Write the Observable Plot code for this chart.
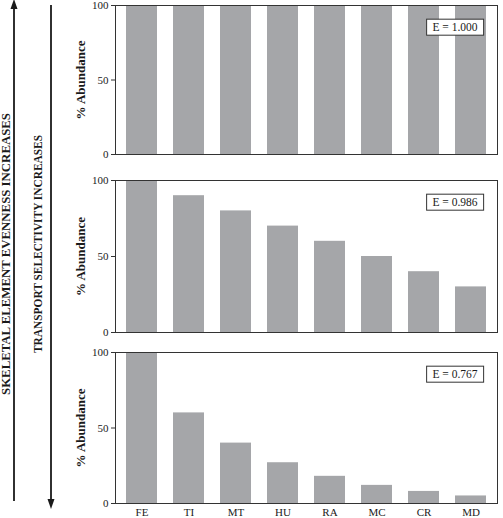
<!DOCTYPE html>
<html>
<head>
<meta charset="utf-8">
<script src="https://cdn.jsdelivr.net/npm/d3@7"></script>
<script src="https://cdn.jsdelivr.net/npm/@observablehq/plot@0.6"></script>
<style>
  html, body { margin: 0; padding: 0; background: #fff; }
  #chart { position: relative; width: 503px; height: 518px; overflow: hidden; font-family: "Liberation Serif", serif; }
  #chart > svg { position: absolute; left: 0; }
</style>
</head>
<body>
<div id="chart"></div>
<script>
const categories = ["FE", "TI", "MT", "HU", "RA", "MC", "CR", "MD"];
const panel1Values = [100, 100, 100, 100, 100, 100, 100, 100];
const panel2Values = [100, 90, 80, 70, 60, 50, 40, 30];
const panel3Values = [100, 60, 40, 27, 18, 12, 8, 5];
const evennessLabels = ["E = 1.000", "E = 0.986", "E = 0.767"];
const yTicks = [0, 50, 100];
const yLabel = "% Abundance";
const leftLabelOuter = "SKELETAL ELEMENT EVENNESS INCREASES";
const leftLabelInner = "TRANSPORT SELECTIVITY INCREASES";

const container = document.getElementById("chart");
const barColor = "#a5a6a9";
const ink = "#1a1a1a";

const panels = [
  {values: panel1Values, label: evennessLabels[0], top: 0, height: 160, marginBottom: 6, xLabels: false},
  {values: panel2Values, label: evennessLabels[1], top: 175, height: 163, marginBottom: 6, xLabels: false},
  {values: panel3Values, label: evennessLabels[2], top: 347, height: 171, marginBottom: 15, xLabels: true}
];

panels.forEach(p => {
  const data = categories.map((c, i) => ({cat: c, value: p.values[i]}));
  const marks = [
    Plot.barY(data, {x: "cat", y: "value", fill: barColor}),
    Plot.frame({stroke: "#333", strokeWidth: 1}),
    Plot.axisY({ticks: yTicks, tickSize: 4, tickPadding: 3, label: null, stroke: "#333"}),
    Plot.text([yLabel], {frameAnchor: "left", rotate: -90, dx: -35, textAnchor: "middle", lineAnchor: "middle", fontWeight: "bold", fontSize: 13, fill: ink}),
    Plot.text([p.label], {frameAnchor: "top-right", dx: -42.5, dy: 22, textAnchor: "middle", lineAnchor: "middle", fontSize: 11.5, fill: ink, ariaDescription: "evenness"})
  ];
  if (p.xLabels) {
    marks.push(Plot.axisX({tickSize: 0, tickPadding: 5, label: null, fontSize: 11}));
  } else {
    marks.push(Plot.axisX({ticks: [], label: null}));
  }
  const svg = Plot.plot({
    width: 503,
    height: p.height,
    marginLeft: 115,
    marginRight: 6,
    marginTop: 5,
    marginBottom: p.marginBottom,
    x: {domain: categories, paddingInner: 0.34, paddingOuter: 0.17},
    y: {domain: [0, 100]},
    style: {fontFamily: "Liberation Serif, serif", fontSize: "11px", color: ink, background: "transparent"},
    marks
  });
  svg.style.top = p.top + "px";
  container.appendChild(svg);
  // draw box around the evenness label (after attaching, so getBBox works)
  svg.querySelectorAll('g[aria-description="evenness"] text').forEach(t => {
    const b = t.getBBox();
    const w = 57, h = 16;
    const cx = b.x + b.width / 2, cy = b.y + b.height / 2;
    const rect = document.createElementNS("http://www.w3.org/2000/svg", "rect");
    rect.setAttribute("x", cx - w / 2);
    rect.setAttribute("y", cy - h / 2);
    rect.setAttribute("width", w);
    rect.setAttribute("height", h);
    rect.setAttribute("fill", "#fff");
    rect.setAttribute("stroke", "#333");
    rect.setAttribute("stroke-width", 1);
    const tr = t.getAttribute("transform");
    if (tr) rect.setAttribute("transform", tr);
    t.parentNode.insertBefore(rect, t);
  });
});

// left annotation arrows and labels
const overlay = d3.create("svg")
  .attr("width", 503).attr("height", 518)
  .style("top", "0px")
  .style("font-family", "Liberation Serif, serif");
container.appendChild(overlay.node());

// outer arrow (points up)
overlay.append("line").attr("x1", 14).attr("x2", 14).attr("y1", 501).attr("y2", 6)
  .attr("stroke", ink).attr("stroke-width", 1.8);
overlay.append("path").attr("d", "M14,-1 L10.5,9 L17.5,9 Z").attr("fill", ink);

// inner arrow (points down)
overlay.append("line").attr("x1", 51).attr("x2", 51).attr("y1", 5).attr("y2", 500)
  .attr("stroke", ink).attr("stroke-width", 1.8);
overlay.append("path").attr("d", "M51,509 L47.5,499 L54.5,499 Z").attr("fill", ink);

overlay.append("text")
  .attr("transform", "translate(9.5,254) rotate(-90)")
  .attr("text-anchor", "middle")
  .attr("font-weight", "bold").attr("font-size", 12)
  .attr("textLength", 282).attr("lengthAdjust", "spacingAndGlyphs")
  .attr("fill", ink)
  .text(leftLabelOuter);

overlay.append("text")
  .attr("transform", "translate(42,244) rotate(-90)")
  .attr("text-anchor", "middle")
  .attr("font-weight", "bold").attr("font-size", 11.5)
  .attr("textLength", 218).attr("lengthAdjust", "spacingAndGlyphs")
  .attr("fill", ink)
  .text(leftLabelInner);
</script>
</body>
</html>
